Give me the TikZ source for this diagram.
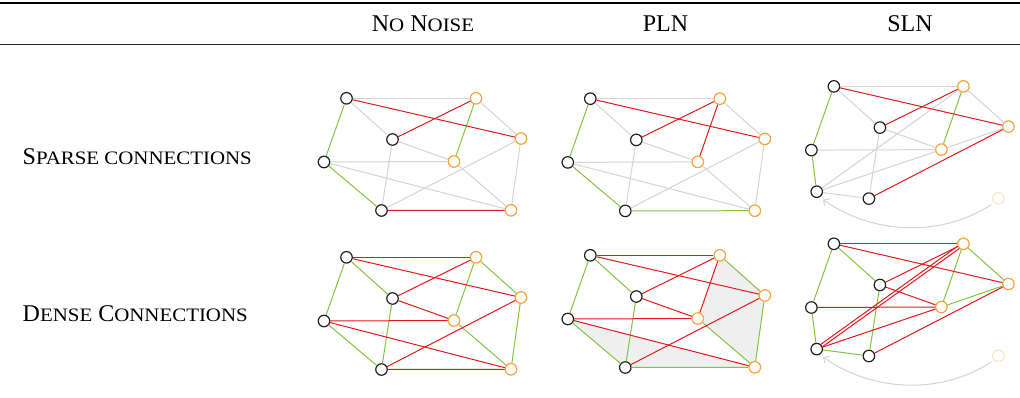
\documentclass[tikz,border=0pt]{standalone}
\usepackage{fontspec}
\setmainfont{Liberation Serif}
\newfontfamily\scfont[FakeStretch=1.1]{Liberation Serif}
\usetikzlibrary{backgrounds,arrows.meta}

\definecolor{edgered}{HTML}{E0191E}
\definecolor{edgegreen}{HTML}{84C341}
\definecolor{edgegray}{HTML}{D4D4D4}
\definecolor{vorange}{HTML}{F5A33B}
\definecolor{vblack}{HTML}{202020}
\definecolor{hullfill}{HTML}{EFEFEF}

% small capitals built from reduced upper-case letters
\newcommand\lsc[1]{{\scfont\fontsize{19}{22}\selectfont #1}}

% the seven vertices shared by every graph; H is placed separately
\newcommand\graphnodes[1]{%
  \node[vb] (#1A) at (346.5,98.3) {};
  \node[vb] (#1B) at (392.5,139.5) {};
  \node[vb] (#1C) at (324,162) {};
  \node[vb] (#1D) at (381.5,210.5) {};
  \node[vo] (#1E) at (476,98.3) {};
  \node[vo] (#1F) at (521,138.5) {};
  \node[vo] (#1G) at (454,161.5) {};
}
% a list of edges of one style inside one graph
\newcommand\edgeset[3]{\foreach \u/\v in {#3}{\draw[#2] (#1\u) -- (#1\v);}}

\begin{document}
\begin{tikzpicture}[x=1pt,y=-1pt,
  vb/.style={circle,draw=vblack,fill=white,line width=1.2pt,minimum size=11.5pt,inner sep=0pt},
  vo/.style={vb,draw=vorange},
  vf/.style={vb,draw=vorange!28},
  gredge/.style={draw=edgegray,line width=1pt},
  rdedge/.style={draw=edgered,line width=1pt},
  gnedge/.style={draw=edgegreen,line width=1pt},
  moveedge/.style={draw=edgegray,line width=1pt,shorten >=4pt,shorten <=3pt,
    -{Straight Barb[length=4pt,width=8pt]}},
  hdr/.style={anchor=base,inner sep=0pt,font=\fontsize{24}{28}\selectfont},
  rowlab/.style={anchor=base west,inner sep=0pt,font=\fontsize{24}{28}\selectfont}]

\useasboundingbox (0,0) rectangle (1020,398);

% table rules
\draw[line width=2pt] (0,3.5) -- (1020,3.5);
\draw[line width=1.3pt,draw=black!85] (0,44.5) -- (1020,44.5);

% column and row headings
\node[hdr] (hNN) at (423,31.5) {N\lsc{O} N\lsc{OISE}};
\node[hdr] (hPLN) at (665.5,31.5) {PLN};
\node[hdr] (hSLN) at (910,31.5) {SLN};
\node[rowlab] (rSparse) at (22.5,164.3) {S\lsc{PARSE CONNECTIONS}};
\node[rowlab] (rDense) at (22.5,321.7) {D\lsc{ENSE} C\lsc{ONNECTIONS}};

% ---------- sparse, no noise ----------
\begin{scope}
  \graphnodes{a}
  \node[vo] (aH) at (511,210.3) {};
  \edgeset{a}{gredge}{A/E,A/B,B/G,B/D,C/G,C/H,D/F,E/F,F/H,G/H}
  \edgeset{a}{gnedge}{A/C,C/D,E/G}
  \edgeset{a}{rdedge}{A/F,B/E,D/H}
\end{scope}

% ---------- sparse, PLN ----------
\begin{scope}[shift={(243.8,0.4)}]
  \graphnodes{b}
  \node[vo] (bH) at (511,210.3) {};
  \edgeset{b}{gredge}{A/E,A/B,B/G,B/D,C/G,C/H,D/F,E/F,F/H,G/H}
  \edgeset{b}{gnedge}{A/C,C/D,D/H}
  \edgeset{b}{rdedge}{A/F,B/E,E/G}
\end{scope}

% ---------- sparse, SLN ----------
\begin{scope}[shift={(487.4,-11.9)}]
  \graphnodes{c}
  \node[vf] (cH) at (511,210.3) {};
  \node[vb] (cN) at (329.3,203.6) {};
  \edgeset{c}{gredge}{A/E,A/B,B/G,B/D,C/G,N/E,N/G,N/D,E/F,G/F}
  \edgeset{c}{gnedge}{A/C,C/N,E/G}
  \edgeset{c}{rdedge}{A/F,B/E,D/F}
  \draw[moveedge] (cH.-135) .. controls +(-55,36) and +(50,36) .. (cN.-60);
\end{scope}

% ---------- dense, no noise ----------
\begin{scope}[shift={(0,159)}]
  \graphnodes{d}
  \node[vo] (dH) at (511,210.3) {};
  \edgeset{d}{gnedge}{A/C,A/B,B/D,C/D,E/G,E/F,F/H,G/H}
  \edgeset{d}{rdedge}{A/E,A/F,B/E,B/G,C/G,C/H,D/F,D/H}
\end{scope}

% ---------- dense, PLN ----------
\begin{scope}[shift={(243.8,157)}]
  \graphnodes{e}
  \node[vo] (eH) at (511,210.3) {};
  \begin{pgfonlayer}{background}
    \fill[hullfill] (eC.center) -- (eD.center) -- (eH.center) -- cycle;
    \fill[hullfill] (eE.center) -- (eF.center) -- (eH.center) -- (eG.center) -- cycle;
  \end{pgfonlayer}
  \edgeset{e}{gnedge}{A/C,A/B,B/D,C/D,D/H,E/F,F/H,G/H}
  \edgeset{e}{rdedge}{A/E,A/F,B/E,B/G,C/G,C/H,D/F,E/G}
\end{scope}

% ---------- dense, SLN ----------
\begin{scope}[shift={(487.4,145.5)}]
  \graphnodes{f}
  \node[vf] (fH) at (511,210.3) {};
  \node[vb] (fN) at (329.3,203.6) {};
  \edgeset{f}{gnedge}{A/C,A/B,B/D,C/N,N/D,E/G,E/F,G/F}
  \edgeset{f}{rdedge}{A/E,A/F,B/E,B/G,C/G,N/G,D/F}
  \draw[rdedge] (fN.49) -- (fE.203);
  \draw[rdedge] (fN.23) -- (fE.229);
  \draw[moveedge] (fH.-135) .. controls +(-55,36) and +(50,36) .. (fN.-60);
\end{scope}

\end{tikzpicture}
\end{document}
